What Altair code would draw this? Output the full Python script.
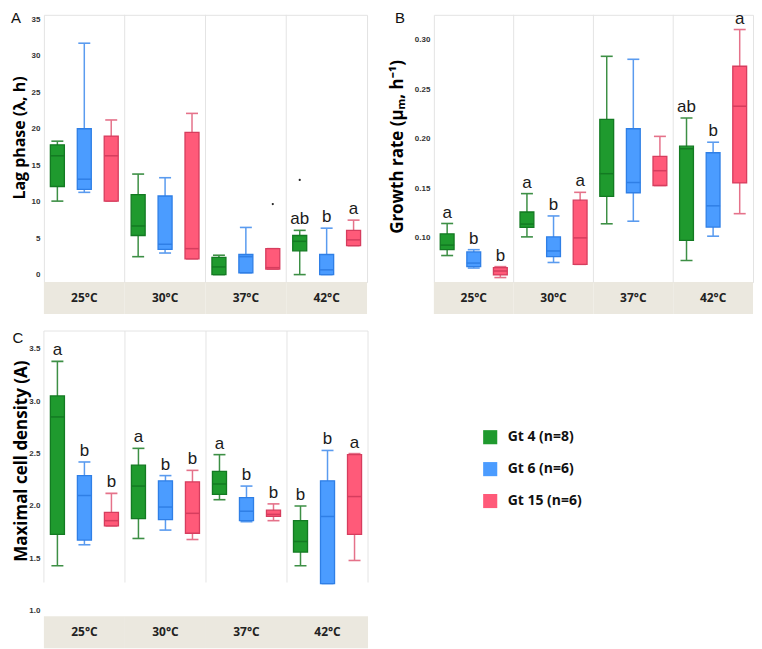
import altair as alt
import pandas as pd

temps = ["25°C", "30°C", "37°C", "42°C"]
genotypes = ["Gt 4 (n=8)", "Gt 6 (n=6)", "Gt 15 (n=6)"]

# ---- Panel A: lag phase (order: temp-major, genotype-minor)
lag_lo = [10.1, 11.3, 10.1, 2.5, 3.0, 2.2, 0.05, 0.3, 0.8, 0.05, 0.05, 4.0]
lag_q1 = [12.1, 11.7, 10.1, 5.4, 3.5, 2.2, 0.05, 0.3, 0.8, 3.3, 0.05, 4.0]
lag_med = [16.3, 13.1, 16.3, 6.7, 4.2, 3.6, 1.1, 2.5, 1.0, 4.6, 0.7, 4.8]
lag_q3 = [17.8, 20.0, 19.0, 11.0, 10.8, 19.5, 2.4, 2.8, 3.6, 5.4, 2.8, 6.1]
lag_hi = [18.3, 31.7, 21.2, 13.8, 13.3, 22.1, 2.7, 6.5, 3.6, 6.1, 6.4, 7.5]
lag_letters = ["", "", "", "", "", "", "", "", "", "ab", "b", "a"]
lag_out_temp = ["37°C", "42°C"]
lag_out_geno = ["Gt 15 (n=6)", "Gt 4 (n=8)"]
lag_out_val = [9.7, 13.0]

# ---- Panel B: growth rate
gr_lo = [0.0822, 0.0696, 0.060, 0.101, 0.0752, 0.0733, 0.1142, 0.1168, 0.1528, 0.0772, 0.1017, 0.1244]
gr_q1 = [0.0881, 0.0710, 0.0627, 0.1106, 0.0812, 0.0733, 0.1419, 0.1455, 0.1528, 0.0974, 0.1109, 0.1554]
gr_med = [0.0927, 0.0746, 0.0667, 0.1139, 0.0868, 0.100, 0.1647, 0.1558, 0.1677, 0.1898, 0.1323, 0.2327]
gr_q3 = [0.104, 0.0858, 0.070, 0.1261, 0.101, 0.138, 0.2195, 0.210, 0.1822, 0.1924, 0.1858, 0.273]
gr_hi = [0.1145, 0.0881, 0.071, 0.1446, 0.1221, 0.1459, 0.283, 0.280, 0.2023, 0.2208, 0.1964, 0.310]
gr_letters = ["a", "b", "b", "a", "b", "a", "", "", "", "ab", "b", "a"]

# ---- Panel C: maximal cell density
md_lo = [1.43, 1.63, 1.81, 1.69, 1.77, 1.68, 2.06, 1.85, 1.86, 1.43, 1.26, 1.48]
md_q1 = [1.73, 1.675, 1.81, 1.88, 1.87, 1.74, 2.11, 1.86, 1.90, 1.56, 1.26, 1.73]
md_med = [2.85, 2.10, 1.86, 2.19, 1.99, 1.93, 2.21, 1.95, 1.92, 1.66, 1.90, 2.09]
md_q3 = [3.05, 2.29, 1.94, 2.39, 2.24, 2.23, 2.33, 2.08, 1.96, 1.86, 2.24, 2.49]
md_hi = [3.38, 2.42, 2.12, 2.55, 2.29, 2.34, 2.49, 2.19, 2.02, 2.00, 2.53, 2.50]
md_letters = ["a", "b", "b", "a", "b", "b", "a", "b", "b", "b", "b", "a"]

# ---- style
fills = ["#1f9a2e", "#4b9cff", "#ff5a79"]
edges = ["#137a22", "#2f7fe6", "#d63d5e"]
whisk = ["#3d8f45", "#5a9bef", "#e5728a"]
STRIP = "#ebe8df"
SEP = "#e4e4e4"


def make_df(lo, q1, med, q3, hi, letters):
    rows = []
    for i, t in enumerate(temps):
        for j, g in enumerate(genotypes):
            k = i * 3 + j
            rows.append(dict(temp=t, geno=g, lo=lo[k], q1=q1[k], med=med[k], q3=q3[k],
                             hi=hi[k], letter=letters[k], edge=edges[j], whisk=whisk[j]))
    return pd.DataFrame(rows)


def panel(df, out_df, domain, tick_vals, fmt, title, w, h, label, lab_xy,
          title_x, title_y, title_size, legend, frame_floor=None):
    xscale = alt.Scale(domain=temps, paddingInner=0, paddingOuter=0)
    xs = alt.X("temp:N", sort=temps, scale=xscale, axis=None)
    xo = alt.XOffset("geno:N", sort=genotypes,
                     scale=alt.Scale(domain=genotypes, paddingInner=0.48, paddingOuter=0.24))
    yaxis = alt.Axis(values=tick_vals, format=fmt, labelFontSize=8, labelFont="Liberation Sans",
                     labelFontWeight="bold", labelColor="#333", labelPadding=4, ticks=False,
                     labelOverlap=False, domain=False, grid=False, title=title,
                     titleFont="Open Sans", titleFontWeight="bold", titleFontSize=title_size,
                     titleColor="#000", titleX=title_x, titleY=title_y, titleBaseline="bottom",
                     titleAlign="center", titleAngle=270)
    yscale = alt.Scale(domain=domain, nice=False, zero=False)

    def Y(field):
        return alt.Y(field, scale=yscale, axis=yaxis)

    layers = []
    if frame_floor is None:
        sep = alt.Chart(pd.DataFrame({"temp": temps[1:]})).mark_rule(color=SEP, strokeWidth=1).encode(
            x=alt.X("temp:N", sort=temps, scale=xscale, axis=None, bandPosition=0))
        layers.append(sep)
    else:
        # frame and separators stop short of the bottom, as in the original panel
        sep = alt.Chart(pd.DataFrame({"temp": temps})).mark_rule(color=SEP, strokeWidth=1).encode(
            x=alt.X("temp:N", sort=temps, scale=xscale, axis=None, bandPosition=0),
            y=alt.YDatum(domain[1]), y2=alt.Y2Datum(frame_floor))
        right = alt.Chart(pd.DataFrame({"temp": temps[-1:]})).mark_rule(color=SEP, strokeWidth=1).encode(
            x=alt.X("temp:N", sort=temps, scale=xscale, axis=None, bandPosition=1),
            y=alt.YDatum(domain[1]), y2=alt.Y2Datum(frame_floor))
        top = alt.Chart(pd.DataFrame({"temp": temps[:1]})).mark_rule(color=SEP, strokeWidth=1).encode(
            x=alt.value(0), x2=alt.value(w), y=alt.YDatum(domain[1]))
        layers += [sep, right, top]

    base = alt.Chart(df)
    whiskers = base.mark_rule(strokeWidth=1.5).encode(
        x=xs, xOffset=xo, y=Y("lo:Q"), y2="hi:Q",
        stroke=alt.Stroke("whisk:N", scale=None))
    cap_hi = base.mark_tick(size=12, thickness=1.6, opacity=1, orient="horizontal", filled=True).encode(
        x=xs, xOffset=xo, y=Y("hi:Q"), fill=alt.Fill("whisk:N", scale=None))
    cap_lo = base.mark_tick(size=12, thickness=1.6, opacity=1, orient="horizontal", filled=True).encode(
        x=xs, xOffset=xo, y=Y("lo:Q"), fill=alt.Fill("whisk:N", scale=None))
    boxes = base.mark_bar(strokeWidth=1.3, opacity=1).encode(
        x=xs, xOffset=xo, y=Y("q1:Q"), y2="q3:Q",
        color=alt.Color("geno:N", sort=genotypes,
                        scale=alt.Scale(domain=genotypes, range=fills), legend=legend),
        stroke=alt.Stroke("edge:N", scale=None))
    medians = base.mark_tick(size=14, thickness=1.5, opacity=1, orient="horizontal", filled=True).encode(
        x=xs, xOffset=xo, y=Y("med:Q"), fill=alt.Fill("edge:N", scale=None))
    letters = base.transform_filter(alt.datum.letter != "").mark_text(
        dy=-6, baseline="alphabetic", fontSize=17, font="Liberation Sans", color="#1a1a1a").encode(
        x=xs, xOffset=xo, y=Y("hi:Q"), text="letter:N")
    strip = alt.Chart(pd.DataFrame({"temp": temps})).mark_rect(color=STRIP).encode(
        x=xs, y=alt.value(h), y2=alt.value(h + 32))
    strip_txt = alt.Chart(pd.DataFrame({"temp": temps})).mark_text(
        font="Open Sans", fontWeight="bold", fontSize=12, color="#222", baseline="middle").encode(
        x=xs, y=alt.value(h + 16), text="temp:N")
    plab = alt.Chart(pd.DataFrame({"lab": [label]})).mark_text(
        font="Liberation Sans", fontSize=15, color="#111", baseline="middle").encode(
        x=alt.value(lab_xy[0]), y=alt.value(lab_xy[1]), text="lab:N")

    layers += [whiskers, cap_hi, cap_lo, boxes, medians]
    if out_df is not None:
        outs = alt.Chart(out_df).mark_circle(size=5, color="#222", opacity=1).encode(
            x=xs, xOffset=xo, y=Y("val:Q"))
        layers.append(outs)
    layers += [letters, strip, strip_txt, plab]
    ch = alt.layer(*layers).properties(width=w, height=h)
    if frame_floor is not None:
        ch = ch.properties(view=alt.ViewBackground(stroke="#e3e3e3", strokeOpacity=0))
    return ch


lag_out = pd.DataFrame({"temp": lag_out_temp, "geno": lag_out_geno, "val": lag_out_val})

chart_a = panel(make_df(lag_lo, lag_q1, lag_med, lag_q3, lag_hi, lag_letters), lag_out,
                [-0.98, 35.58], [0, 5, 10, 15, 20, 25, 30, 35], "d", "Lag phase (λ, h)",
                324, 268, "A", (-28, 3), -16, 123, 16, None)
chart_b = panel(make_df(gr_lo, gr_q1, gr_med, gr_q3, gr_hi, gr_letters), None,
                [0.0554, 0.3248], [0.10, 0.15, 0.20, 0.25, 0.30], ".2f", "Growth rate (μₘ, h⁻¹)",
                320, 268, "B", (-34, 3), -27, 132, 17, None)
legend = alt.Legend(title=None, orient="none", legendX=440, legendY=99, symbolType="square",
                    symbolSize=200, symbolStrokeWidth=0, labelFont="Open Sans",
                    labelFontWeight="bold", labelFontSize=14, labelColor="#111",
                    rowPadding=17, labelOffset=10)
chart_c = panel(make_df(md_lo, md_q1, md_med, md_q3, md_hi, md_letters), None,
                [0.948, 3.67], [1.0, 1.5, 2.0, 2.5, 3.0, 3.5], ".1f", "Maximal cell density (A)",
                325, 286, "C", (-26, 7), -13, 130, 17, legend, frame_floor=1.27)

res = dict(x="independent", y="independent", xOffset="independent", color="independent")
row1 = alt.hconcat(chart_a, chart_b, spacing=20).resolve_scale(**res)
chart = alt.vconcat(row1, chart_c, spacing=15).resolve_scale(**res).properties(
    padding={"left": 2, "top": 0, "right": 0, "bottom": 0})
chart = chart.configure_view(stroke="#e3e3e3", strokeWidth=1)

chart.save("out.html", embed_options={"renderer": "svg", "actions": False})
